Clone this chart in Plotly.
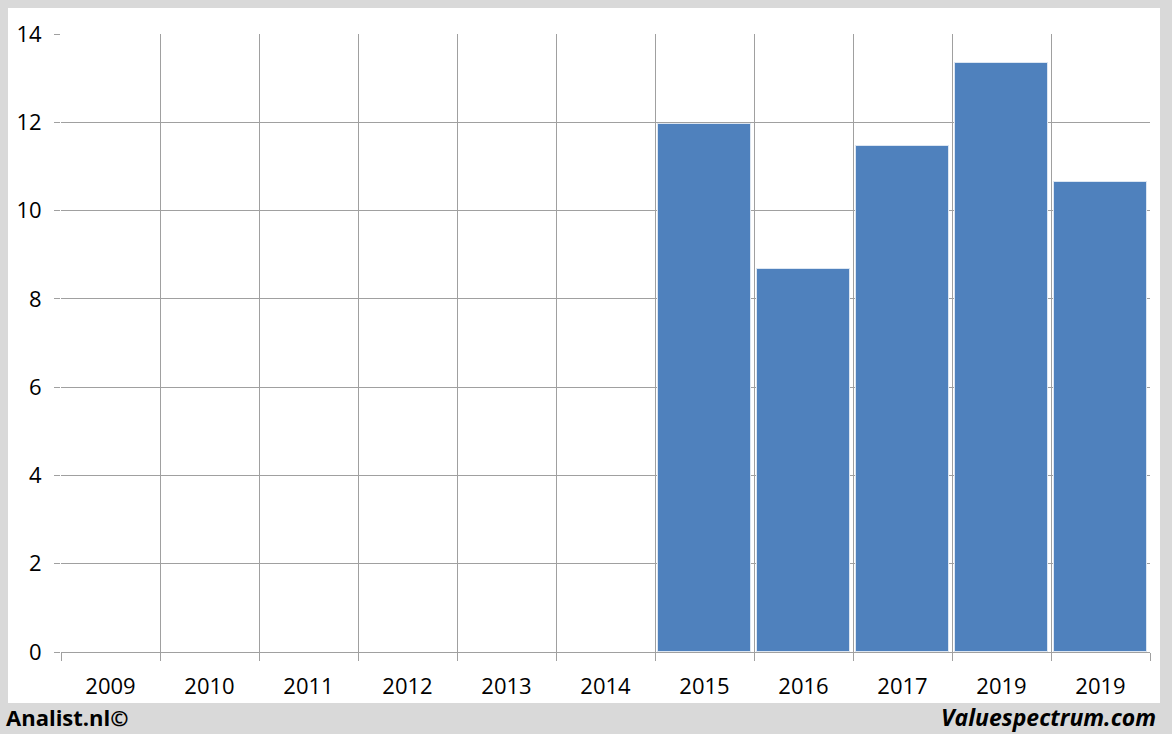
import plotly.graph_objects as go

years = ["2009", "2010", "2011", "2012", "2013", "2014", "2015", "2016", "2017", "2019", "2019"]
values = [None, None, None, None, None, None, 11.97, 8.68, 11.46, 13.34, 10.65]
y_ticks = [0, 2, 4, 6, 8, 10, 12, 14]

positions = list(range(len(years)))
FONT = "Open Sans, Liberation Sans, sans-serif"

fig = go.Figure()
fig.add_trace(go.Bar(
    x=positions, y=values,
    marker=dict(color="#4f81bd", line=dict(color="#dce6f2", width=1)),
    width=0.94,
    hoverinfo="skip",
))

W, H = 1172, 734
L, R, T, B = 61, 22, 34, 82
pw, ph = W - L - R, H - T - B

def px_x(x):
    return (x - L) / pw

def px_y(y):
    return (H - B - y) / ph

fig.add_shape(type="rect", xref="paper", yref="paper",
              x0=px_x(8), x1=px_x(1160), y0=px_y(703), y1=px_y(8),
              fillcolor="white", line=dict(width=0), layer="below")

fig.add_annotation(text="<b>Analist.nl©</b>", xref="paper", yref="paper",
                   x=px_x(4), y=px_y(717), xanchor="left", yanchor="middle",
                   showarrow=False, font=dict(family=FONT, size=22, color="black"))
fig.add_annotation(text="<b><i>Valuespectrum.com</i></b>", xref="paper", yref="paper",
                   x=px_x(1158), y=px_y(717), xanchor="right", yanchor="middle",
                   showarrow=False, font=dict(family=FONT, size=23, color="black"))

fig.update_layout(
    width=W, height=H,
    margin=dict(l=L, r=R, t=T, b=B, pad=0),
    paper_bgcolor="#d9d9d9",
    plot_bgcolor="white",
    showlegend=False,
    font=dict(family=FONT, size=22, color="black"),
    xaxis=dict(
        range=[-0.5, len(years) - 0.5],
        tickmode="array", tickvals=positions, ticktext=years,
        showgrid=False, ticks="", zeroline=False,
        ticklabelstandoff=19,
        showline=False,
        minor=dict(tickmode="linear", tick0=-0.5, dtick=1, showgrid=True,
                   gridcolor="#a0a0a0", gridwidth=1, ticks="outside",
                   ticklen=8, tickcolor="#a0a0a0", tickwidth=1),
        fixedrange=True,
    ),
    yaxis=dict(
        range=[0, 14],
        tickmode="array", tickvals=y_ticks,
        showgrid=True, gridcolor="#a0a0a0", gridwidth=1,
        zeroline=True, zerolinecolor="#a0a0a0", zerolinewidth=1,
        ticks="outside", ticklen=6, tickcolor="#a0a0a0",
        ticklabelstandoff=8,
        showline=False,
        fixedrange=True,
    ),
    bargap=0,
)

fig.write_html("out.html", config={"displayModeBar": False},
               post_script="document.body.style.margin='0';document.body.style.overflow='hidden';")
